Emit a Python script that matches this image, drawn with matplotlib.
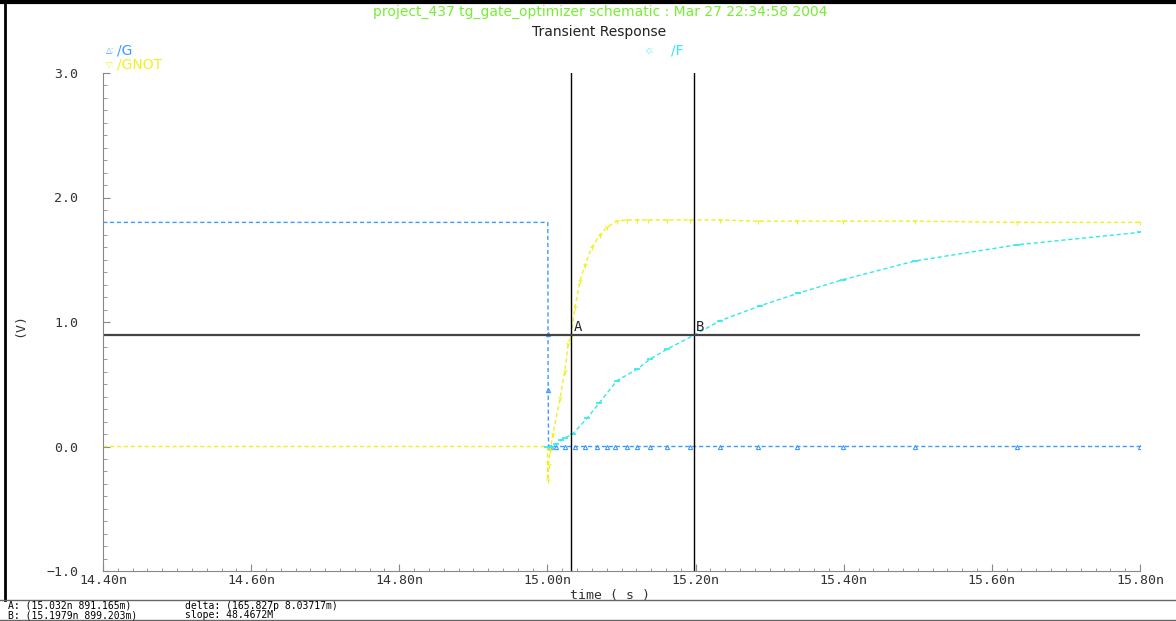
import numpy as np
import matplotlib.pyplot as plt
from matplotlib.ticker import MultipleLocator, FuncFormatter

# signal samples (time in ns, value in V)
g_t = [14.40, 15.0005, 15.0008, 15.0010, 15.0015, 15.005, 15.012, 15.024, 15.037,
       15.051, 15.067, 15.080, 15.091, 15.107, 15.121, 15.138, 15.161, 15.193,
       15.233, 15.284, 15.337, 15.399, 15.496, 15.634, 15.80]
g_v = [1.80, 1.80, 0.90, 0.45, 0.0, 0.0, 0.0, 0.0, 0.0,
       0.0, 0.0, 0.0, 0.0, 0.0, 0.0, 0.0, 0.0, 0.0,
       0.0, 0.0, 0.0, 0.0, 0.0, 0.0, 0.0]

gnot_t = [14.40, 15.0, 15.0005, 15.0015, 15.0035, 15.0075, 15.017, 15.0237, 15.0278,
          15.032, 15.0372, 15.044, 15.0507, 15.060, 15.071, 15.080, 15.094, 15.107,
          15.121, 15.136, 15.161, 15.193, 15.233, 15.284, 15.337, 15.399, 15.496,
          15.634, 15.80]
gnot_v = [0.0, 0.0, -0.27, -0.15, -0.03, 0.10, 0.39, 0.61, 0.82,
          0.89, 1.12, 1.33, 1.46, 1.60, 1.70, 1.76, 1.81, 1.82,
          1.82, 1.82, 1.82, 1.82, 1.82, 1.81, 1.81, 1.81, 1.81,
          1.80, 1.80]

f_t = [15.0, 15.005, 15.012, 15.018, 15.024, 15.034, 15.054, 15.070, 15.094,
       15.121, 15.138, 15.161, 15.198, 15.233, 15.287, 15.338, 15.399, 15.496,
       15.634, 15.80]
f_v = [0.0, 0.0, 0.02, 0.05, 0.07, 0.10, 0.23, 0.35, 0.53,
       0.62, 0.70, 0.78, 0.895, 1.01, 1.13, 1.23, 1.34, 1.49,
       1.62, 1.72]

cursor_names = ["A", "B"]
cursor_t = [15.032, 15.1979]
cursor_level = 0.895
readout = ["A: (15.032n 891.165m)", "B: (15.1979n 899.203m)",
           "delta: (165.827p 8.03717m)", "slope: 48.4672M"]

c_g = "#3d9bff"
c_gnot = "#f0f020"
c_f = "#30eaea"

fig = plt.figure(figsize=(11.76, 6.21), dpi=100)
ax = fig.add_axes([103 / 1176, 1 - 571 / 621, 1037 / 1176, 498 / 621])

dash = (0, (3, 2))
ax.plot(g_t, g_v, color=c_g, lw=1, ls=dash, marker="^", ms=3, mfc="none",
        mew=0.8, markevery=slice(2, None))
ax.plot(gnot_t, gnot_v, color=c_gnot, lw=1, ls=dash, marker="1", ms=4,
        mew=0.8, markevery=slice(2, None))
ax.plot(f_t, f_v, color=c_f, lw=1, ls=dash, marker="_", ms=4, mew=1.2)

# cursors
for name, t in zip(cursor_names, cursor_t):
    ax.axvline(t, color="black", lw=1)
    ax.text(t + 0.003, cursor_level + 0.005, name, fontsize=10,
            family="DejaVu Sans Mono", color="#222222", va="bottom")
ax.axhline(cursor_level, color="#444444", lw=1.6)

ax.set_xlim(14.40, 15.80)
ax.set_ylim(-1.0, 3.0)
ax.xaxis.set_major_locator(MultipleLocator(0.2))
ax.xaxis.set_minor_locator(MultipleLocator(0.02))
ax.yaxis.set_major_locator(MultipleLocator(1.0))
ax.yaxis.set_minor_locator(MultipleLocator(0.1))
ax.xaxis.set_major_formatter(FuncFormatter(lambda v, p: "%.2fn" % v))
ax.yaxis.set_major_formatter(FuncFormatter(lambda v, p: ("%.1f" % v).replace("-", "\u2212")))

for s in ["top", "right"]:
    ax.spines[s].set_visible(False)
for s in ["left", "bottom"]:
    ax.spines[s].set_color("#888888")
ax.tick_params(which="both", direction="in", colors="#888888", labelcolor="#333333",
               labelsize=9.5)
ax.tick_params(axis="y", which="major", length=5, pad=18)
ax.tick_params(axis="y", which="minor", length=3)
ax.tick_params(axis="x", which="major", length=5, pad=2)
ax.tick_params(axis="x", which="minor", length=2)
for lab in ax.get_xticklabels() + ax.get_yticklabels():
    lab.set_family("DejaVu Sans Mono")

fig.text(610 / 1176, 1 - 596 / 621, "time ( s )", ha="center", va="center",
         fontsize=9.5, family="DejaVu Sans Mono", color="#333333")
fig.text(20 / 1176, 1 - 325 / 621, "(V)", ha="center", va="center", rotation=90,
         fontsize=9.5, family="DejaVu Sans Mono", color="#333333")

# header
fig.text(600 / 1176, 1 - 12 / 621,
         "project_437 tg_gate_optimizer schematic : Mar 27 22:34:58 2004",
         ha="center", va="center", fontsize=10, color="#77ee33")
fig.text(599 / 1176, 1 - 32 / 621, "Transient Response", ha="center", va="center",
         fontsize=10, color="#222222")

# legend entries
fig.text(106 / 1176, 1 - 51 / 621, "\u25b3:", fontsize=5.5, color=c_g, va="center")
fig.text(117 / 1176, 1 - 51 / 621, "/G", fontsize=10, color=c_g, va="center")
fig.text(106 / 1176, 1 - 64 / 621, "\u25bd:", fontsize=5.5, color=c_gnot, va="center")
fig.text(117 / 1176, 1 - 64 / 621, "/GNOT", fontsize=10, color=c_gnot, va="center")
fig.text(646 / 1176, 1 - 51 / 621, "\u25c7:", fontsize=5.5, color=c_f, va="center")
fig.text(671 / 1176, 1 - 51 / 621, "/F", fontsize=10, color=c_f, va="center")

# cursor readout bar
for txt, (x, y) in zip(readout, [(8, 606), (8, 615), (185, 606), (185, 615)]):
    fig.text(x / 1176, 1 - y / 621, txt, fontsize=7, family="DejaVu Sans Mono",
             va="center")

# window frame
fig.add_artist(plt.Line2D([0, 1], [1 - 1.5 / 621] * 2, color="black", lw=3))
fig.add_artist(plt.Line2D([5 / 1176] * 2, [1 - 600 / 621, 1], color="black", lw=2))
fig.add_artist(plt.Line2D([0, 1], [1 - 600 / 621] * 2, color="#666666", lw=1))
fig.add_artist(plt.Line2D([0, 1], [1 - 620 / 621] * 2, color="#666666", lw=1))

fig.savefig("out.png", dpi=100)
